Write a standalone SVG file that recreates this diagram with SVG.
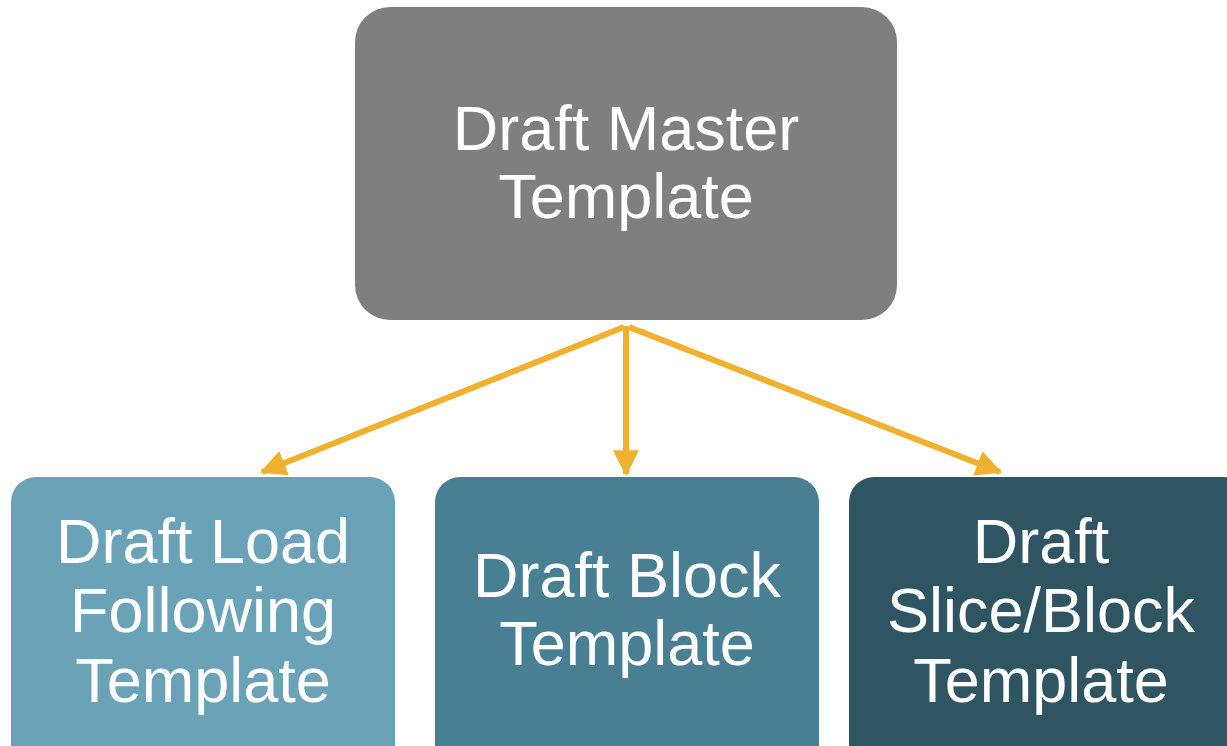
<svg xmlns="http://www.w3.org/2000/svg" width="1227" height="746" viewBox="0 0 1227 746">
<defs>
<marker id="ah" markerUnits="userSpaceOnUse" markerWidth="26" markerHeight="26" viewBox="0 0 24 24" refX="22" refY="12" orient="auto">
<path d="M0,0 L24,12 L0,24 Z" fill="#f0b12f"/>
</marker>
<style>
.lbl{font-family:"Liberation Sans",Arial,sans-serif;font-size:63px;fill:#ffffff;text-anchor:middle}
.conn{stroke:#f0b12f;stroke-width:6;fill:none}
</style>
</defs>
<rect width="1227" height="746" fill="#ffffff"/>
<g id="connectors">
<line class="conn" x1="624" y1="327" x2="262" y2="472" marker-end="url(#ah)"/>
<line class="conn" x1="626" y1="326" x2="626" y2="474" marker-end="url(#ah)"/>
<line class="conn" x1="629" y1="327" x2="1000" y2="472" marker-end="url(#ah)"/>
</g>
<g id="master">
<rect x="355" y="7" width="542" height="313" rx="35" fill="#7f7f7f"/>
<text class="lbl" x="626" y="150">Draft Master</text>
<text class="lbl" x="626" y="218">Template</text>
</g>
<g id="load">
<rect x="11" y="477" width="384" height="310" rx="25" fill="#6aa3b7"/>
<text class="lbl" x="203" y="563">Draft Load</text>
<text class="lbl" x="203" y="632">Following</text>
<text class="lbl" x="203" y="702">Template</text>
</g>
<g id="block">
<rect x="435" y="477" width="384" height="310" rx="25" fill="#487f92"/>
<text class="lbl" x="627" y="597">Draft Block</text>
<text class="lbl" x="627" y="665">Template</text>
</g>
<g id="slice">
<rect x="849" y="477" width="400" height="310" rx="25" fill="#2f5563"/>
<text class="lbl" x="1041" y="563">Draft</text>
<text class="lbl" x="1041" y="632">Slice/Block</text>
<text class="lbl" x="1041" y="702">Template</text>
</g>
</svg>
